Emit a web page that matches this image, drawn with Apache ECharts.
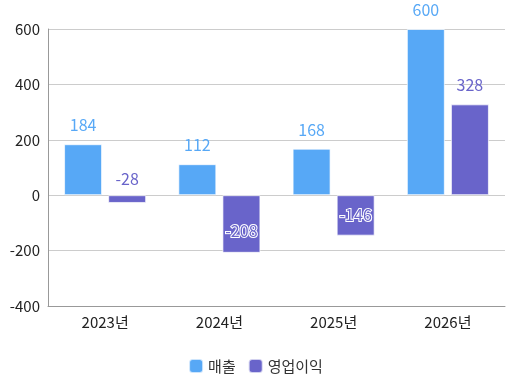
<!DOCTYPE html>
<html><head><meta charset="utf-8">
<script src="https://cdn.jsdelivr.net/npm/echarts@6/dist/echarts.min.js"></script>
<style>html,body{margin:0;padding:0;background:#fff}#c{width:511px;height:383px}</style>
</head><body><div id="c"></div>
<script>
const categories = ['2023년','2024년','2025년','2026년'];
const sales = [184, 112, 168, 600];
const opProfit = [-28, -208, -146, 328];
const seriesNames = ['매출','영업이익'];

const font = '"Noto Sans CJK KR","Noto Sans",sans-serif';
const blue = '#57a8f6';
const purple = '#6964ca';

const opData = opProfit.map(v => {
  if (v < -100) {
    return {value: v, label: {position: 'inside', offset: [0, v < -200 ? 7 : 0], color: purple, textBorderColor: '#fff', textBorderWidth: 2}};
  }
  if (v < 0) {
    return {value: v, label: {offset: [0, 3]}};
  }
  return v;
});

const chart = echarts.init(document.getElementById('c'));
chart.setOption({
  animation: false,
  textStyle: {fontFamily: font},
  grid: {left: 48, right: 6, top: 29, bottom: 77, containLabel: false},
  legend: {
    bottom: 4, left: 'center', itemWidth: 14, itemHeight: 14, icon: 'roundRect', itemGap: 12,
    textStyle: {fontSize: 15, color: '#333', fontFamily: font},
    data: seriesNames
  },
  xAxis: {
    type: 'category', data: categories,
    axisLine: {show: true, onZero: false, lineStyle: {color: '#999'}}, axisTick: {show: false},
    axisLabel: {fontSize: 15, color: '#222', margin: 9, fontFamily: font}
  },
  yAxis: {
    type: 'value', min: -400, max: 600, interval: 200,
    axisLine: {show: true, lineStyle: {color: '#999'}},
    axisTick: {show: false},
    axisLabel: {fontSize: 15, color: '#222', margin: 8, fontFamily: font},
    splitLine: {lineStyle: {color: '#ccc'}}
  },
  series: [
    {name: seriesNames[0], type: 'bar', data: sales, barWidth: 38, barGap: '16%',
     itemStyle: {color: blue, borderColor: 'rgba(255,255,255,0.7)', borderWidth: 1},
     label: {show: true, position: 'top', distance: 11, fontSize: 16, color: blue, fontFamily: font}},
    {name: seriesNames[1], type: 'bar', data: opData, barWidth: 38,
     itemStyle: {color: purple, borderColor: 'rgba(255,255,255,0.7)', borderWidth: 1},
     label: {show: true, position: 'top', distance: 11, fontSize: 16, color: purple, fontFamily: font}}
  ]
});
</script></body></html>
